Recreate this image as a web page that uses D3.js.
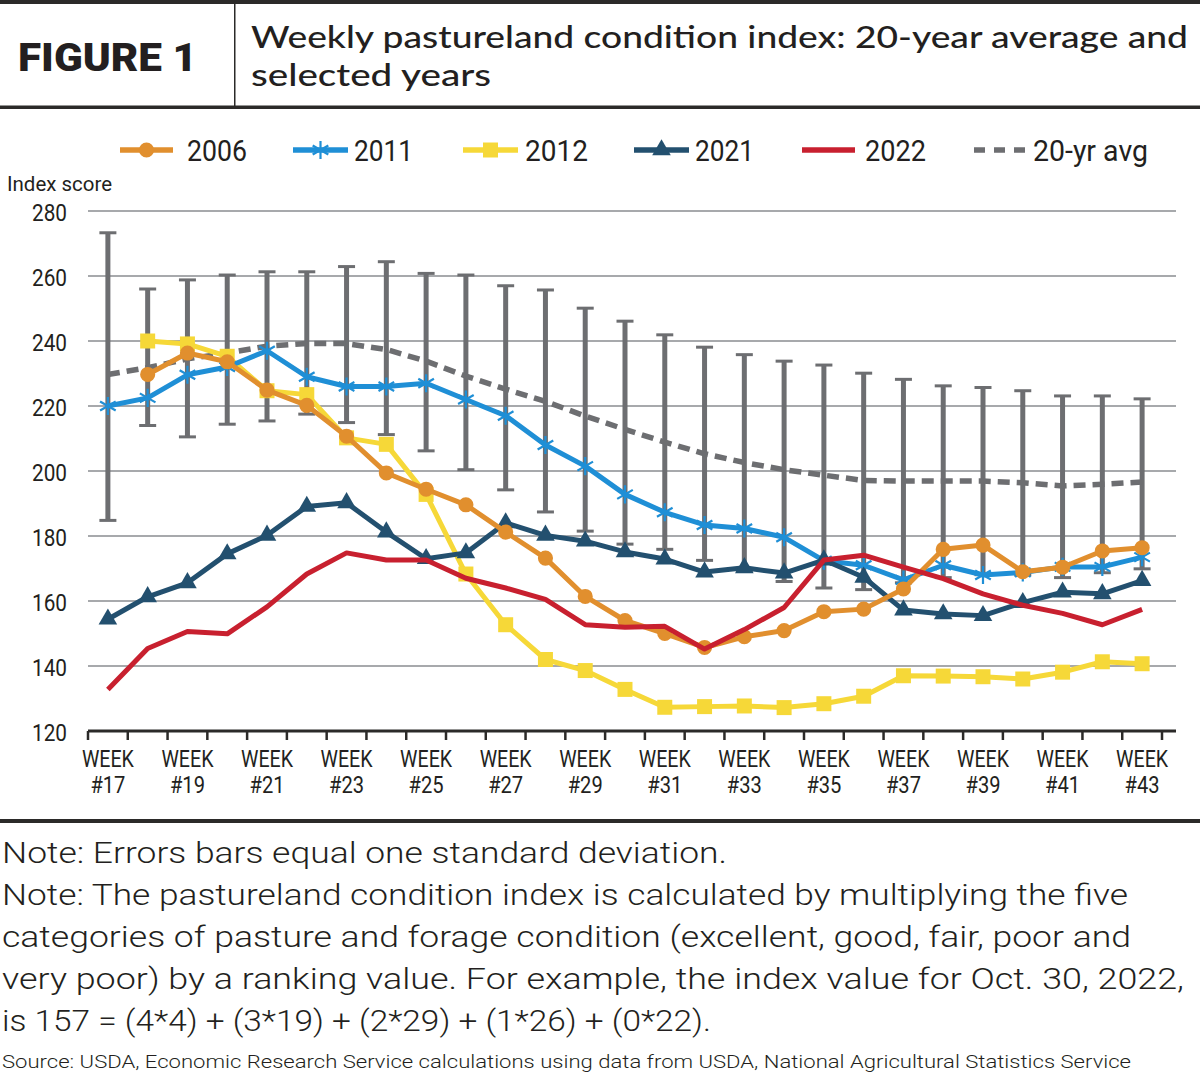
<!DOCTYPE html>
<html>
<head>
<meta charset="utf-8">
<script src="https://cdn.jsdelivr.net/npm/d3@7/dist/d3.min.js"></script>
<style>
body{margin:0;background:#fff;}
svg text{fill:#231f20;}
</style>
</head>
<body>
<div id="chart"></div>
<script>
// data
var weeks = [17,18,19,20,21,22,23,24,25,26,27,28,29,30,31,32,33,34,35,36,37,38,39,40,41,42,43];
var y2006 = [null,229.7,236.3,233.6,224.9,220.2,210.7,199.4,194.4,189.6,181.2,173.2,161.4,154,150,145.7,149,150.9,156.7,157.5,163.7,175.9,177.2,169,170.4,175.4,176.4];
var y2011 = [220,222.5,229.6,232,237,229,226,226,227,222,217,208,201.5,192.8,187.3,183.4,182.3,179.6,172.4,171,166.5,171,168,168.8,170.5,170.5,173.5];
var y2012 = [null,240,239.1,235.3,224.7,223.5,210.2,208.2,192.8,168.3,152.7,142,138.6,132.8,127.3,127.5,127.7,127.2,128.4,130.7,137,136.9,136.7,136,138.1,141.3,140.7];
var y2021 = [154.4,161.3,165.6,174.5,180.2,189.1,190.2,181.2,173,174.8,184,180.2,178.4,175.1,172.9,168.9,170.2,168.6,172.6,167.3,157.2,156,155.5,159.5,162.7,162.2,166.3];
var y2022 = [132.8,145.4,150.6,149.9,158.2,168.3,174.8,172.6,172.6,167,164,160.5,152.7,151.9,152.2,145.2,151.2,158,172.6,174.1,170.4,166.9,162.2,158.7,156.2,152.7,157.4];
var avg20 = [229.7,231.8,234.5,236.3,238.4,239.2,239.2,237.4,233.8,229.2,225.2,221.4,216.9,212.8,208.9,205.3,202.6,200.4,198.7,197.1,196.9,196.9,196.9,196.4,195.4,195.9,196.6];
var errHigh = [273.3,256,258.8,260.3,261.3,261.3,262.9,264.4,260.8,260.3,257,255.7,250.1,246.1,241.9,238.1,235.8,233.8,232.6,230.1,228.2,226.2,225.7,224.7,223.1,223.1,222.2];
var errLow = [184.8,214,210.5,214.4,215.4,217.5,214.9,211.2,206.2,200.4,194.2,187.4,181.5,177.5,175.9,172.5,169.4,166,164,163.5,165.6,167.2,168.1,168,167.2,168.7,169.9];
var yTicks = [120,140,160,180,200,220,240,260,280];
var labelWeeks = [17,19,21,23,25,27,29,31,33,35,37,39,41,43];

var w = 1200, h = 1074;
var dark = "#2b2a29";
var grey = "#6d6e71";
var narrow = "Roboto,'Liberation Sans',sans-serif";

var svg = d3.select("#chart").append("svg")
    .attr("width", w)
    .attr("height", h);

var x = d3.scaleBand().domain(weeks).range([88, 1162]).padding(0);
var y = d3.scaleLinear().domain([120, 280]).range([731, 211]);
function cx(i){ return x(weeks[i]) + x.bandwidth()/2; }

// squeeze a text to a measured width
function fit(sel, len){
    return sel.attr("textLength", len).attr("lengthAdjust", "spacingAndGlyphs");
}

// ---- header ----
svg.append("rect").attr("x",0).attr("y",0).attr("width",w).attr("height",4).attr("fill",dark);
svg.append("rect").attr("x",0).attr("y",105.5).attr("width",w).attr("height",3.5).attr("fill",dark);
svg.append("rect").attr("x",234).attr("y",4).attr("width",1.5).attr("height",102).attr("fill",dark);

fit(svg.append("text").attr("x",18).attr("y",71)
    .attr("font-family","Roboto,'DejaVu Sans',sans-serif").attr("font-weight","900")
    .attr("font-size",39).text("FIGURE 1"), 179);
fit(svg.append("text").attr("x",251).attr("y",48)
    .attr("font-family","Lato,'Open Sans',sans-serif").attr("font-weight","500")
    .attr("font-size",30).text("Weekly pastureland condition index: 20-year average and"), 937);
fit(svg.append("text").attr("x",251).attr("y",86)
    .attr("font-family","Lato,'Open Sans',sans-serif").attr("font-weight","500")
    .attr("font-size",30).text("selected years"), 240);

// ---- grid ----
svg.append("g").selectAll("line")
    .data(yTicks.filter(function(d){ return d > 120; }))
    .enter().append("line")
    .attr("x1",88).attr("x2",1176)
    .attr("y1",function(d){ return y(d); }).attr("y2",function(d){ return y(d); })
    .attr("stroke","#a7a9ac").attr("stroke-width",2);

svg.append("g").selectAll("text")
    .data(yTicks)
    .enter().append("text")
    .attr("x",67).attr("y",function(d){ return y(d) + 10; })
    .attr("text-anchor","end")
    .attr("font-family",narrow).attr("font-size",23)
    .attr("textLength",35).attr("lengthAdjust","spacingAndGlyphs")
    .text(function(d){ return d; });

fit(svg.append("text").attr("x",7).attr("y",191)
    .attr("font-family",narrow).attr("font-size",21)
    .text("Index score"), 105);

// ---- x axis ----
svg.append("line").attr("x1",88).attr("x2",1176).attr("y1",731).attr("y2",731)
    .attr("stroke",dark).attr("stroke-width",3);
svg.append("g").selectAll("line")
    .data(d3.range(weeks.length + 1))
    .enter().append("line")
    .attr("x1",function(i){ return 88 + i*x.step(); })
    .attr("x2",function(i){ return 88 + i*x.step(); })
    .attr("y1",731).attr("y2",740)
    .attr("stroke",dark).attr("stroke-width",2.5);

var xl = svg.append("g").selectAll("g")
    .data(labelWeeks)
    .enter().append("g")
    .attr("transform",function(d){ return "translate(" + (x(d) + x.bandwidth()/2) + ",0)"; });
fit(xl.append("text").attr("y",767).attr("text-anchor","middle")
    .attr("font-family",narrow).attr("font-size",24)
    .text("WEEK"), 52);
fit(xl.append("text").attr("y",793).attr("text-anchor","middle")
    .attr("font-family",narrow).attr("font-size",24)
    .text(function(d){ return "#" + d; }), 35);

// ---- error bars + 20-yr avg ----
var eb = svg.append("g").selectAll("g")
    .data(weeks)
    .enter().append("g");
eb.append("line")
    .attr("x1",function(d,i){ return cx(i); }).attr("x2",function(d,i){ return cx(i); })
    .attr("y1",function(d,i){ return y(errHigh[i]); }).attr("y2",function(d,i){ return y(errLow[i]); })
    .attr("stroke",grey).attr("stroke-width",5);
eb.append("line")
    .attr("x1",function(d,i){ return cx(i) - 8.5; }).attr("x2",function(d,i){ return cx(i) + 8.5; })
    .attr("y1",function(d,i){ return y(errHigh[i]); }).attr("y2",function(d,i){ return y(errHigh[i]); })
    .attr("stroke",grey).attr("stroke-width",3);
eb.append("line")
    .attr("x1",function(d,i){ return cx(i) - 8.5; }).attr("x2",function(d,i){ return cx(i) + 8.5; })
    .attr("y1",function(d,i){ return y(errLow[i]); }).attr("y2",function(d,i){ return y(errLow[i]); })
    .attr("stroke",grey).attr("stroke-width",3);

var line = d3.line()
    .defined(function(d){ return d != null; })
    .x(function(d,i){ return cx(i); })
    .y(function(d){ return y(d); });

svg.append("path").datum(avg20)
    .attr("d",line).attr("fill","none")
    .attr("stroke",grey).attr("stroke-width",5.5).attr("stroke-dasharray","12,7");

// ---- series ----
var series = [
    {name:"2012", values:y2012, color:"#f6d838", symbol:d3.symbolSquare, size:225},
    {name:"2011", values:y2011, color:"#1f8fd6", symbol:d3.symbolAsterisk, size:230},
    {name:"2021", values:y2021, color:"#23506f", symbol:d3.symbolTriangle, size:150},
    {name:"2006", values:y2006, color:"#e18f2e", symbol:d3.symbolCircle, size:180},
    {name:"2022", values:y2022, color:"#c8202f", symbol:null}
];

function drawSymbol(g, s, px, py){
    var p = g.append("path")
        .attr("d", d3.symbol(s.symbol, s.size)())
        .attr("transform","translate(" + px + "," + py + ")");
    if (s.symbol === d3.symbolAsterisk) {
        p.attr("fill","none").attr("stroke",s.color).attr("stroke-width",2.2);
    } else {
        p.attr("fill",s.color);
    }
}

series.forEach(function(s){
    var g = svg.append("g");
    g.append("path").datum(s.values)
        .attr("d",line).attr("fill","none")
        .attr("stroke",s.color).attr("stroke-width",5)
        .attr("stroke-linejoin","round");
    if (s.symbol) {
        s.values.forEach(function(v,i){
            if (v != null) drawSymbol(g, s, cx(i), y(v));
        });
    }
});

// ---- legend ----
var legend = [
    {name:"2006", x1:120, x2:173, tx:187, tl:60},
    {name:"2011", x1:293, x2:348, tx:354, tl:59},
    {name:"2012", x1:463, x2:518, tx:525, tl:63},
    {name:"2021", x1:634, x2:689, tx:695, tl:59},
    {name:"2022", x1:802, x2:855, tx:865, tl:61},
    {name:"20-yr avg", x1:974, x2:1025, tx:1033, tl:115}
];
legend.forEach(function(l){
    var s = series.filter(function(d){ return d.name === l.name; })[0];
    var g = svg.append("g");
    if (s) {
        g.append("line").attr("x1",l.x1).attr("x2",l.x2).attr("y1",150).attr("y2",150)
            .attr("stroke",s.color).attr("stroke-width",5.5);
        if (s.symbol) drawSymbol(g, s, (l.x1 + l.x2)/2, 150);
    } else {
        g.append("line").attr("x1",l.x1).attr("x2",l.x2).attr("y1",150).attr("y2",150)
            .attr("stroke",grey).attr("stroke-width",5.5).attr("stroke-dasharray","11,9");
    }
    fit(g.append("text").attr("x",l.tx).attr("y",161)
        .attr("font-family",narrow).attr("font-size",30)
        .text(l.name), l.tl);
});

// ---- notes ----
svg.append("rect").attr("x",0).attr("y",819).attr("width",w).attr("height",4).attr("fill",dark);
var notes = [
    {t:"Note: Errors bars equal one standard deviation.", y:863, len:725},
    {t:"Note: The pastureland condition index is calculated by multiplying the five", y:905, len:1126},
    {t:"categories of pasture and forage condition (excellent, good, fair, poor and", y:947, len:1129},
    {t:"very poor) by a ranking value. For example, the index value for Oct. 30, 2022,", y:989, len:1182},
    {t:"is 157 = (4*4) + (3*19) + (2*29) + (1*26) + (0*22).", y:1031, len:709}
];
svg.append("g").selectAll("text")
    .data(notes)
    .enter().append("text")
    .attr("x",2).attr("y",function(d){ return d.y; })
    .attr("font-family",narrow).attr("font-weight","300").attr("font-size",29)
    .attr("textLength",function(d){ return d.len; }).attr("lengthAdjust","spacingAndGlyphs")
    .text(function(d){ return d.t; });
fit(svg.append("text").attr("x",2).attr("y",1068)
    .attr("font-family",narrow).attr("font-weight","300").attr("font-size",19)
    .text("Source: USDA, Economic Research Service calculations using data from USDA, National Agricultural Statistics Service"), 1129);
</script>
</body>
</html>
